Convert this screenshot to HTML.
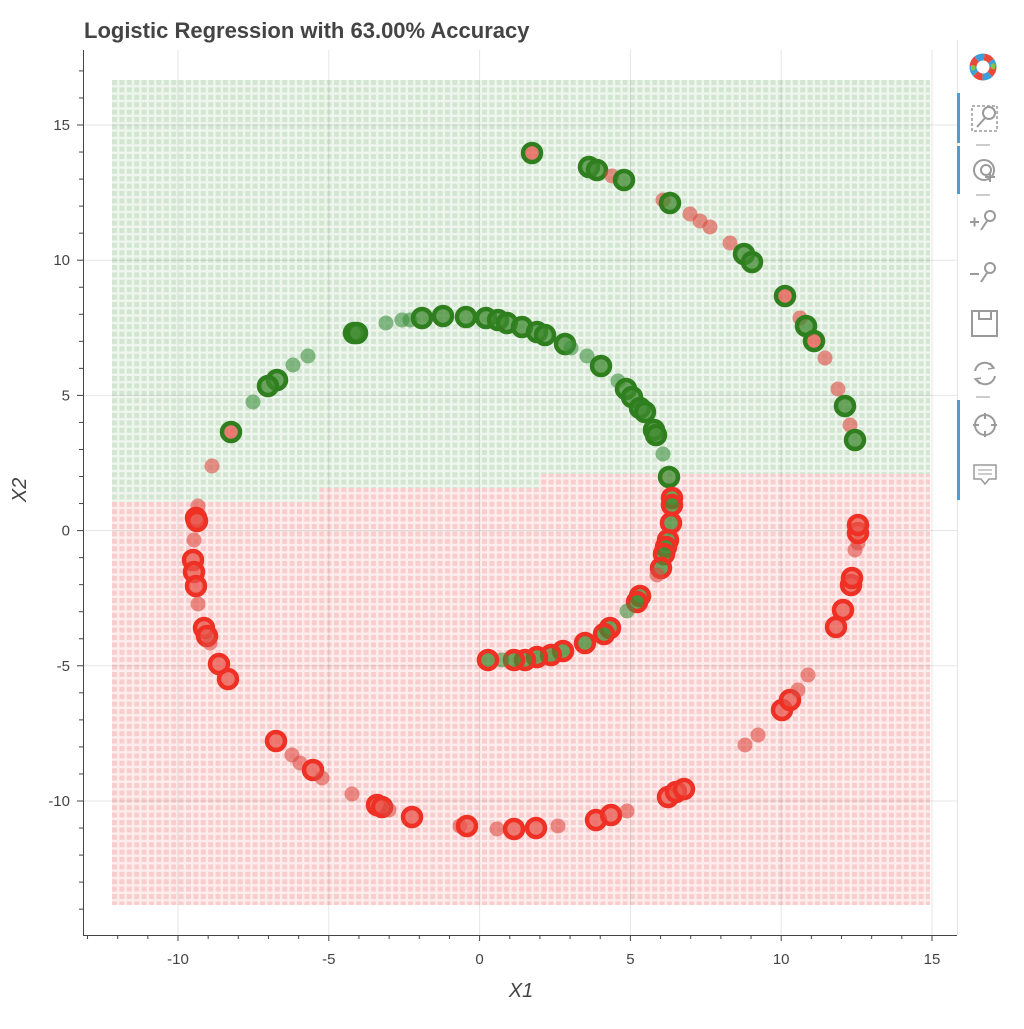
<!DOCTYPE html>
<html><head><meta charset="utf-8"><style>
body{margin:0;background:#fff;width:1024px;height:1024px;overflow:hidden;font-family:"Liberation Sans",sans-serif}
</style></head><body>
<svg id="s" width="1024" height="1024" xmlns="http://www.w3.org/2000/svg" font-family="Liberation Sans, sans-serif">
<defs>
<pattern id="pg" x="112" y="80" width="7.4" height="7.4" patternUnits="userSpaceOnUse"><rect width="7.4" height="7.4" fill="#eef6ee"/><rect width="5" height="5" fill="#d2e6d2"/></pattern>
<pattern id="pr" x="112" y="80" width="7.4" height="7.4" patternUnits="userSpaceOnUse"><rect width="7.4" height="7.4" fill="#fdeded"/><rect width="5" height="5" fill="#f9cdcd"/></pattern>
</defs>
<rect x="0" y="0" width="1024" height="1024" fill="#fff"/>
<rect x="112" y="80" width="818" height="825" fill="url(#pr)"/>
<polygon points="112,80 930,80 930,474 540,474 540,488 320,488 320,502 112,502" fill="url(#pg)"/>
<g id="grid" stroke="#000" stroke-opacity="0.1" stroke-width="1"></g>
<g id="pts"></g>
<g id="axes" stroke="#444" fill="none"></g>
<g id="lbl" fill="#444" font-size="15"></g>
<text x="84" y="38" font-size="22" font-weight="bold" fill="#444">Logistic Regression with 63.00% Accuracy</text>
<text x="521" y="997" font-size="20" font-style="italic" fill="#444" text-anchor="middle">X1</text>
<text transform="translate(26,490) rotate(-90)" font-size="20" font-style="italic" fill="#444" text-anchor="middle">X2</text>
<line x1="957.5" y1="40" x2="957.5" y2="935" stroke="#e5e5e5"/>
<rect x="957" y="93" width="3" height="50" fill="#4a9fd8"/>
<rect x="957" y="146" width="3" height="48" fill="#4a9fd8"/>
<rect x="957" y="400" width="3" height="100" fill="#4a9fd8"/>
<g transform="translate(983,67)">
<circle r="10" fill="none" stroke="#e8493b" stroke-width="7" stroke-dasharray="8 8"/>
<circle r="10" fill="none" stroke="#3aa0d8" stroke-width="7" stroke-dasharray="8 8" stroke-dashoffset="8"/>
<circle r="10" fill="none" stroke="#8ac43f" stroke-width="4" stroke-dasharray="5 26" stroke-dashoffset="3"/>
</g>
<g stroke="#9a9a9a" fill="none" stroke-width="2">
<rect x="972" y="106" width="25" height="25" stroke-dasharray="3 2" stroke-width="1.5"/><circle cx="989" cy="113" r="6"/><line x1="985" y1="118" x2="977" y2="127"/>
<line x1="976" y1="145" x2="990" y2="145" stroke-width="1"/>
<circle cx="984" cy="170" r="10"/><circle cx="986" cy="170" r="5"/><path d="M990 172v10M985 177h10"/>
<line x1="976" y1="195" x2="990" y2="195" stroke-width="1"/>
<circle cx="990" cy="216" r="5"/><line x1="987" y1="221" x2="981" y2="230"/><path d="M970 222h9M974.5 217.5v9"/>
<circle cx="990" cy="268" r="5"/><line x1="987" y1="273" x2="981" y2="282"/><path d="M970 274h9"/>
<rect x="972" y="311" width="25" height="25"/><path d="M979 311v8h12v-8"/>
<path d="M975 371a10 10 0 0 1 18-4M995 376a10 10 0 0 1-18 4"/><path d="M990 363l4 5-6 1M980 384l-5-5 6-1" stroke-width="1.5"/>
<line x1="976" y1="397" x2="990" y2="397" stroke-width="1"/>
<circle cx="985" cy="425" r="10"/><path d="M985 413v6M985 431v6M973 425h6M991 425h6"/>
<path d="M974 465h22v14h-7l-4 5-4-5h-7z" stroke-width="1.5"/><path d="M978 470h14M978 474h14" stroke-width="1"/>
</g>
</svg>
<script>
var NS="http://www.w3.org/2000/svg";
function el(p,t,a,tx){var e=document.createElementNS(NS,t);for(var k in a)e.setAttribute(k,a[k]);if(tx!=null)e.textContent=tx;document.getElementById(p).appendChild(e);return e;}
function X(v){return 479.6+v*30.16;} function Y(v){return 530.6-v*27.04;}
for(var v=-10;v<=15;v+=5){el('grid','line',{x1:X(v),x2:X(v),y1:50,y2:935});}
for(var v=-10;v<=15;v+=5){el('grid','line',{x1:83,x2:957,y1:Y(v),y2:Y(v)});}
el('axes','line',{x1:83.5,y1:50,x2:83.5,y2:935});
el('axes','line',{x1:83,y1:935.5,x2:957,y2:935.5});
for(var v=-13;v<=15;v++){var x=X(v);if(x<84||x>957)continue;el('axes','line',{x1:x,x2:x,y1:935,y2:v%5==0?941:939});}
for(var v=-14;v<=17;v++){var y=Y(v);if(y<50||y>935)continue;el('axes','line',{x1:83,x2:v%5==0?77:79,y1:y,y2:y});}
for(var v=-10;v<=15;v+=5){el('lbl','text',{x:X(v),y:964,'text-anchor':'middle'},String(v));el('lbl','text',{x:70,y:Y(v)+5,'text-anchor':'end'},String(v));}
var G='#2f7f1f',R='#ee3124';
var P=[
[532,153,'GR'],[589,167,'GG'],[597,170,'GG'],[612,176,'R'],[624,180,'GG'],[663,200,'R'],[670,203,'GG'],[690,214,'R'],[700,221,'R'],[710,227,'R'],[730,243,'R'],[744,254,'GG'],[752,262,'GG'],[785,296,'GR'],[800,318,'R'],[806,326,'GG'],[814,341,'GR'],[825,358,'R'],[838,389,'R'],[845,406,'GG'],[850,425,'R'],[855,440,'GG'],
[354,333,'GG'],[357,333,'GG'],[386,323,'G'],[402,320,'G'],[410,320,'G'],[422,318,'GG'],[443,316,'GG'],[466,317,'GG'],[486,318,'GG'],[498,320,'GG'],[507,323,'GG'],[522,327,'GG'],[537,332,'GG'],[545,335,'GG'],[565,344,'GG'],[571,348,'G'],[587,356,'G'],[601,366,'GG'],[618,381,'G'],[626,389,'GG'],[632,397,'GG'],[640,408,'GG'],[645,412,'GG'],[654,430,'GG'],[656,435,'GG'],[663,454,'G'],[669,477,'GG'],
[308,356,'G'],[293,365,'G'],[277,380,'GG'],[268,386,'GG'],[253,402,'G'],[231,432,'GR'],[212,466,'R'],
[672,498,'RG'],[672,505,'RG'],[671,523,'RG'],[668,540,'RG'],[666,547,'RG'],[664,554,'RG'],[661,568,'RG'],[657,575,'R'],[640,596,'RG'],[637,602,'RG'],[627,611,'G'],[610,628,'RG'],[604,634,'RG'],[585,643,'RG'],[563,651,'RG'],[551,655,'RG'],[537,657,'RG'],[525,660,'RG'],[514,660,'RG'],[502,660,'G'],[488,660,'RG'],
[198,506,'R'],[196,518,'RR'],[197,521,'RR'],[194,540,'R'],[193,560,'RR'],[194,572,'RR'],[196,586,'RR'],[198,604,'R'],[204,628,'RR'],[207,636,'RR'],[210,643,'R'],[219,664,'RR'],[228,679,'RR'],
[276,741,'RR'],[292,755,'R'],[300,763,'R'],[313,770,'RR'],[322,778,'R'],[352,794,'R'],[377,805,'RR'],[382,807,'RR'],[389,810,'R'],[412,817,'RR'],[460,826,'R'],[467,826,'RR'],[497,829,'R'],[514,829,'RR'],[536,828,'RR'],[558,826,'R'],[596,820,'RR'],[611,815,'RR'],[627,811,'R'],[668,797,'RR'],[676,792,'RR'],[684,789,'RR'],
[745,745,'R'],[758,735,'R'],[782,710,'RR'],[790,700,'RR'],[798,690,'R'],[808,675,'R'],[836,627,'RR'],[843,610,'RR'],[851,585,'RR'],[852,578,'RR'],[855,550,'R'],[858,543,'R'],[858,533,'RR'],[858,525,'RR']
];
P.forEach(function(p){var t=p[2];
 if(t.length==1){el('pts','circle',{cx:p[0],cy:p[1],r:7.5,fill:t=='G'?'#3d8f3d':'#de4a40','fill-opacity':0.6});}
 else{var o=t[0]=='G'?G:R,i=t[1]=='G'?G:R;
  el('pts','circle',{cx:p[0],cy:p[1],r:9,fill:i==R?'#e8544a':'#3f8a2f','fill-opacity':0.75,stroke:o,'stroke-width':4.5});}
});
</script>
</body></html>
